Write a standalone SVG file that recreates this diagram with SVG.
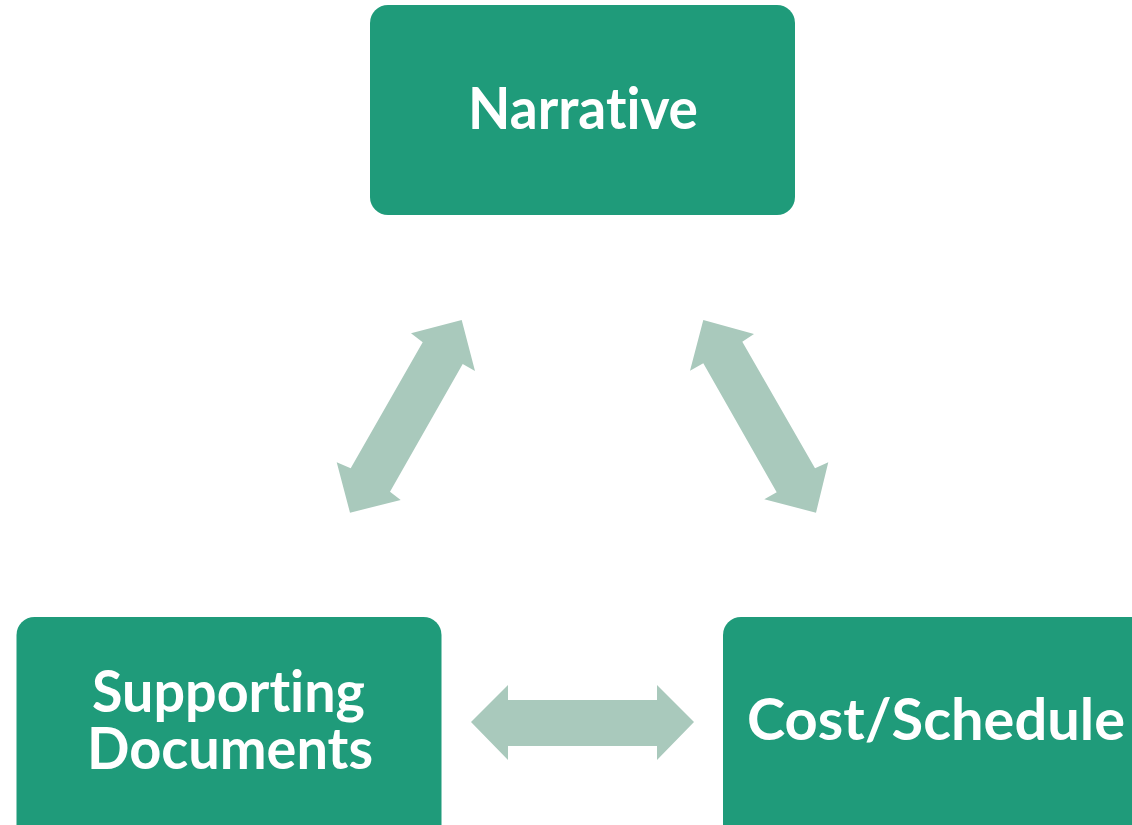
<svg xmlns="http://www.w3.org/2000/svg" width="1132" height="825" viewBox="0 0 1132 825">
<style>
.box{fill:#1f9b7a}
.lbl{fill:#ffffff;font-family:Lato,"Open Sans","Liberation Sans",sans-serif;font-weight:700;font-size:57px;font-variant-ligatures:none;font-feature-settings:"liga" 0,"clig" 0}
.arr{fill:#a9c9bc}
</style>
<rect width="1132" height="825" fill="#ffffff"/>
<g id="connectors">
<polygon class="arr" points="471,722 508,685 508,700 657,700 657,685 694,722 657,760 657,746 508,746 508,760"/>
<polygon class="arr" points="461.7,320 475,371 462.7,364 390,491.7 400.7,500 350,512.7 336.7,462.3 350.7,468.3 422.7,342.3 411,333.3"/>
<polygon class="arr" points="703.3,320 754,334 742.3,341.7 815,468.3 828.3,462.3 816,512.7 764.3,499.3 776.7,492.3 703.3,363.3 690,370.7"/>
</g>
<g id="narrative">
<rect class="box" x="370" y="5" width="425" height="210" rx="18"/>
<text class="lbl" x="583" y="128.5" text-anchor="middle" textLength="230" lengthAdjust="spacingAndGlyphs">Narrative</text>
</g>
<g id="supporting-documents">
<rect class="box" x="16.5" y="617" width="425" height="230" rx="18"/>
<text class="lbl" x="228.5" y="711.5" text-anchor="middle" textLength="273" lengthAdjust="spacingAndGlyphs">Supporting</text>
<text class="lbl" x="230" y="769" text-anchor="middle" textLength="286" lengthAdjust="spacingAndGlyphs">Documents</text>
</g>
<g id="cost-schedule">
<rect class="box" x="723" y="617" width="425" height="230" rx="18"/>
<text class="lbl" x="936" y="740" text-anchor="middle" textLength="378" lengthAdjust="spacingAndGlyphs">Cost/Schedule</text>
</g>
</svg>
